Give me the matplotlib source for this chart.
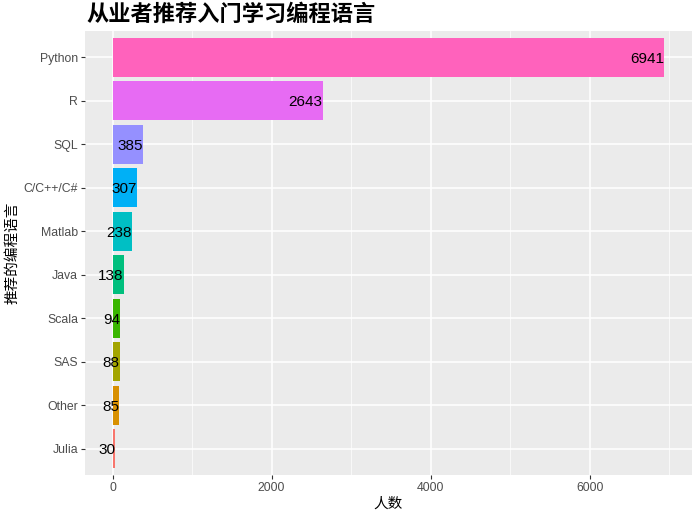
import matplotlib
matplotlib.use("Agg")
import matplotlib.pyplot as plt
from matplotlib.ticker import MultipleLocator

plt.rcParams["font.family"] = ["Liberation Sans", "Noto Sans CJK SC", "DejaVu Sans"]

# data, bottom to top
languages = ["Julia", "Other", "SAS", "Scala", "Java", "Matlab", "C/C++/C#", "SQL", "R", "Python"]
counts = [30, 85, 88, 94, 138, 238, 307, 385, 2643, 6941]
colors = ["#F8766D", "#D89000", "#A3A500", "#39B600", "#00BF7D",
          "#00BFC4", "#00B0F6", "#9590FF", "#E76BF3", "#FF62BC"]

fig = plt.figure(figsize=(6.98, 5.17), dpi=100)
ax = fig.add_axes([85 / 698, 1 - 475 / 517, 607 / 698, 444 / 517])
ax.set_facecolor("#EBEBEB")

ypos = range(len(languages))
ax.barh(ypos, counts, height=0.9, color=colors, zorder=2)
for y, v in zip(ypos, counts):
    ax.text(v, y, str(v), ha="right", va="center_baseline", fontsize=11,
            color="black", zorder=3)

top = max(counts)
ax.set_xlim(-0.05 * top, top * 1.05)
ax.set_ylim(-0.6, len(languages) - 0.4)
ax.set_yticks(list(ypos))
ax.set_yticklabels(languages)
ax.xaxis.set_major_locator(MultipleLocator(2000))
ax.xaxis.set_minor_locator(MultipleLocator(1000))

ax.grid(which="major", color="white", linewidth=1.1, zorder=0)
ax.grid(which="minor", axis="x", color="white", linewidth=0.5, zorder=0)
ax.set_axisbelow(True)
for s in ax.spines.values():
    s.set_visible(False)
ax.tick_params(which="major", length=3, color="#333333", labelsize=8.8,
               labelcolor="#4D4D4D", pad=2)
ax.tick_params(which="minor", length=0)

ax.set_xlabel("人数", fontsize=10.5, labelpad=2)
ax.set_ylabel("推荐的编程语言", fontsize=10.5, labelpad=3)
fig.text(86 / 698, 1 - 14 / 517, "从业者推荐入门学习编程语言", fontsize=16,
         fontweight="bold", fontstyle="italic", ha="left", va="center",
         family=["Noto Sans CJK SC", "DejaVu Sans"])

fig.savefig("out.png", dpi=100)
